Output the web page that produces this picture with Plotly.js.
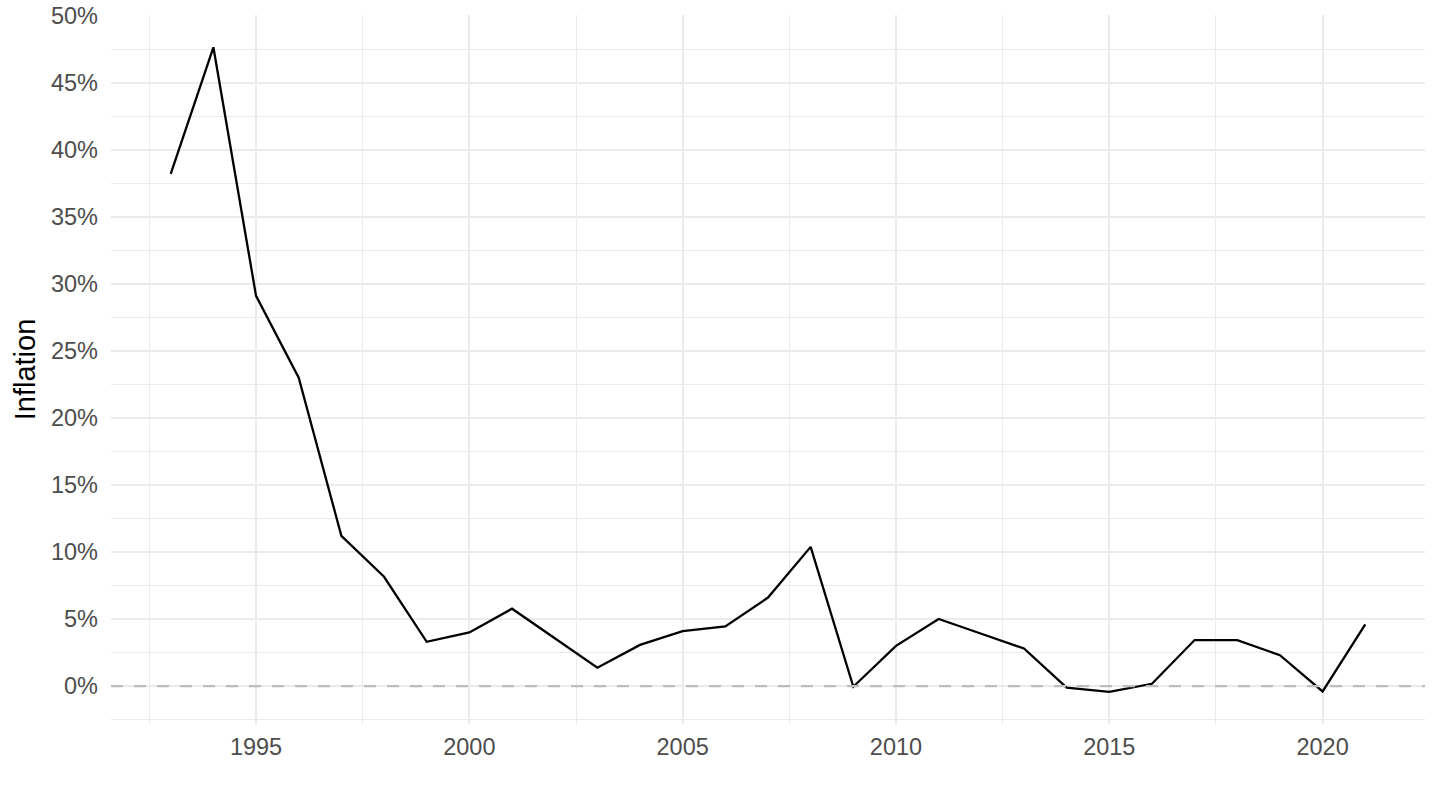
<!DOCTYPE html>
<html>
<head>
<meta charset="utf-8">
<script src="https://cdn.plot.ly/plotly-3.0.1.min.js"></script>
<style>
  html, body { margin: 0; padding: 0; background: #ffffff; }
  #chart { width: 1440px; height: 810px; }
</style>
</head>
<body>
<div id="chart"></div>
<script>
const years = [1993, 1994, 1995, 1996, 1997, 1998, 1999, 2000, 2001, 2002,
               2003, 2004, 2005, 2006, 2007, 2008, 2009, 2010, 2011, 2012,
               2013, 2014, 2015, 2016, 2017, 2018, 2019, 2020, 2021];
const inflation = [38.2, 47.64, 29.1, 23.0, 11.2, 8.15, 3.3, 4.0, 5.77, 3.57,
                   1.37, 3.07, 4.1, 4.45, 6.6, 10.38, -0.05, 3.0, 5.0, 3.9,
                   2.8, -0.12, -0.43, 0.17, 3.43, 3.43, 2.3, -0.4, 4.6];
const xTickVals = [1995, 2000, 2005, 2010, 2015, 2020];
const yTickVals = [0, 5, 10, 15, 20, 25, 30, 35, 40, 45, 50];
const yTickText = ["0%", "5%", "10%", "15%", "20%", "25%", "30%", "35%", "40%", "45%", "50%"];
const referenceLevel = 0;
const yTitle = "Inflation";

const trace = {
  x: years,
  y: inflation,
  type: 'scatter',
  mode: 'lines',
  line: { color: '#000000', width: 2.3 },
  hoverinfo: 'x+y'
};

const layout = {
  width: 1440,
  height: 810,
  margin: { l: 111, r: 15, t: 15, b: 86 },
  paper_bgcolor: '#ffffff',
  plot_bgcolor: '#ffffff',
  showlegend: false,
  font: { family: 'Liberation Sans, Arial, sans-serif', color: '#4d4d4d' },
  xaxis: {
    range: [1991.6, 2022.4],
    tickmode: 'array',
    tickvals: xTickVals,
    ticktext: xTickVals.map(String),
    showgrid: true,
    gridcolor: '#ebebeb',
    gridwidth: 2,
    zeroline: false,
    showline: false,
    ticks: '',
    ticklabelstandoff: 6,
    tickfont: { size: 23.5, color: '#4d4d4d' },
    minor: { tickmode: 'linear', tick0: 1992.5, dtick: 5, showgrid: true, gridcolor: '#ebebeb', gridwidth: 1 },
    automargin: false,
    fixedrange: true
  },
  yaxis: {
    range: [-2.83, 50.05],
    tickmode: 'array',
    tickvals: yTickVals,
    ticktext: yTickText,
    showgrid: true,
    gridcolor: '#ebebeb',
    gridwidth: 2,
    zeroline: false,
    showline: false,
    ticks: '',
    ticklabelstandoff: 12,
    tickfont: { size: 23.5, color: '#4d4d4d' },
    minor: { tickmode: 'linear', tick0: -2.5, dtick: 5, showgrid: true, gridcolor: '#ebebeb', gridwidth: 1 },
    title: { text: yTitle, font: { size: 29, color: '#000000' }, standoff: 6 },
    automargin: false,
    fixedrange: true
  },
  shapes: [{
    type: 'line',
    xref: 'paper', x0: 0, x1: 1,
    yref: 'y', y0: referenceLevel, y1: referenceLevel,
    line: { color: '#bdbdbd', width: 2.2, dash: '12px,11px' },
    layer: 'above'
  }]
};

Plotly.newPlot('chart', [trace], layout, { displayModeBar: false, staticPlot: true });
</script>
</body>
</html>
